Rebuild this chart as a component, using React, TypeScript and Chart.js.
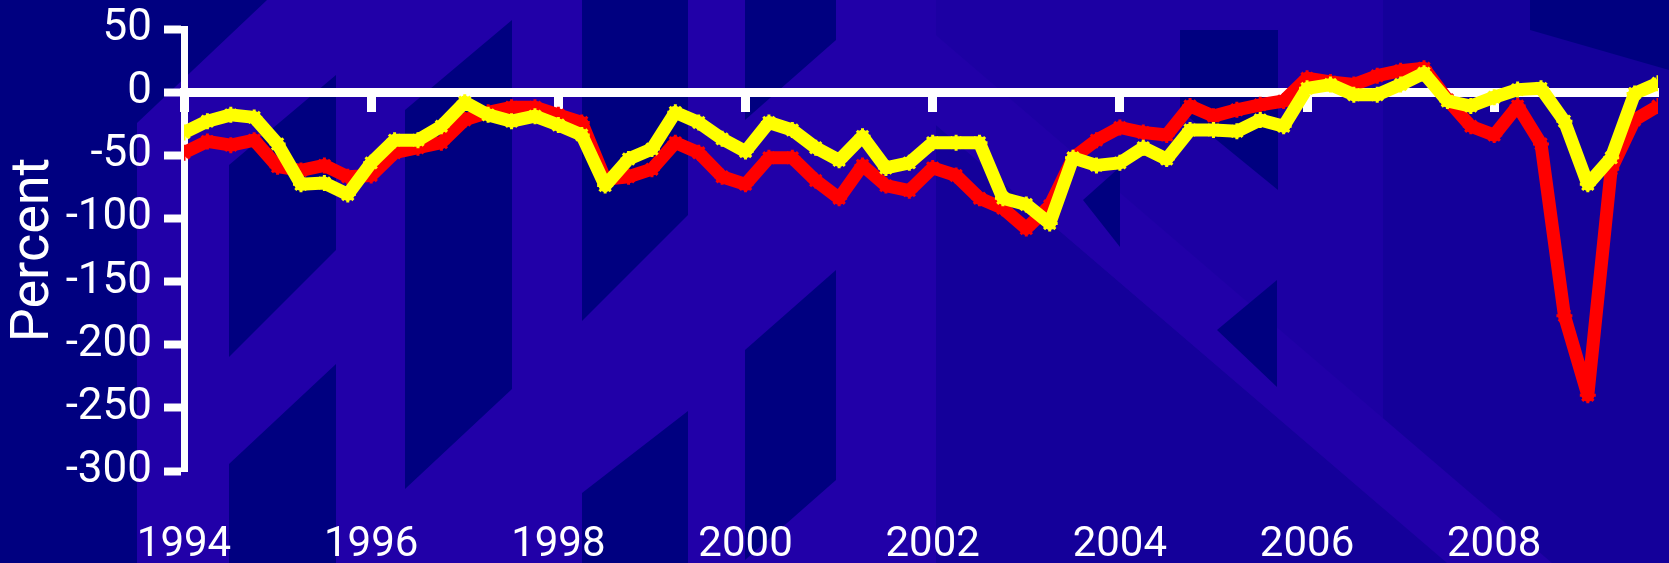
import React, { useEffect, useRef } from "react";
import { Chart, registerables } from "chart.js";

Chart.register(...registerables);

// Quarterly observations, 1994 Q1 .. 2009 Q4 (decimal years)
const quarters: number[] = [
  1994.0, 1994.25, 1994.5, 1994.75, 1995.0, 1995.25, 1995.5, 1995.75,
  1996.0, 1996.25, 1996.5, 1996.75, 1997.0, 1997.25, 1997.5, 1997.75,
  1998.0, 1998.25, 1998.5, 1998.75, 1999.0, 1999.25, 1999.5, 1999.75,
  2000.0, 2000.25, 2000.5, 2000.75, 2001.0, 2001.25, 2001.5, 2001.75,
  2002.0, 2002.25, 2002.5, 2002.75, 2003.0, 2003.25, 2003.5, 2003.75,
  2004.0, 2004.25, 2004.5, 2004.75, 2005.0, 2005.25, 2005.5, 2005.75,
  2006.0, 2006.25, 2006.5, 2006.75, 2007.0, 2007.25, 2007.5, 2007.75,
  2008.0, 2008.25, 2008.5, 2008.75, 2009.0, 2009.25, 2009.5, 2009.75,
];

const redSeries: number[] = [
  -48, -39, -42, -38, -59, -62, -58, -67,
  -66, -48, -44, -40, -22, -16, -12, -12,
  -18, -24, -69, -67, -61, -40, -48, -67,
  -73, -52, -52, -70, -84, -58, -74, -78,
  -60, -66, -84, -92, -108, -90, -52, -38,
  -28, -32, -34, -11, -19, -14, -10, -7,
  11, 8, 6, 13, 17, 19, -6, -27,
  -34, -11, -41, -177, -240, -61, -22, -11,
];

const yellowSeries: number[] = [
  -32, -23, -18, -20, -41, -73, -72, -81,
  -56, -38, -38, -27, -8, -18, -23, -19,
  -26, -34, -74, -53, -45, -16, -24, -37,
  -47, -24, -30, -44, -54, -35, -60, -56,
  -40, -40, -40, -84, -89, -104, -52, -58,
  -56, -44, -53, -30, -30, -31, -22, -27,
  3, 6, -2, -2, 6, 15, -7, -11,
  -4, 2, 3, -23, -73, -52, -1, 7,
];

const xTickYears: number[] = [1994, 1996, 1998, 2000, 2002, 2004, 2006, 2008];
const yTickValues: number[] = [50, 0, -50, -100, -150, -200, -250, -300];

const X_MIN = 1994;
const X_MAX = 2009.75;
const Y_MIN = -300;
const Y_MAX = 50;

const NAVY = "#000080";
const LIGHT = "#2100A8";
const MIDLIGHT = "#1C00A3";
const MEDIUM = "#14009A";

const backgroundPlugin = {
  id: "slideBackground",
  beforeDraw(chart: any) {
    const ctx = chart.ctx as CanvasRenderingContext2D;
    const w = chart.width;
    const h = chart.height;
    const poly = (pts: number[][], color: string) => {
      ctx.beginPath();
      ctx.moveTo(pts[0][0], pts[0][1]);
      for (let i = 1; i < pts.length; i++) ctx.lineTo(pts[i][0], pts[i][1]);
      ctx.closePath();
      ctx.fillStyle = color;
      ctx.fill();
    };
    ctx.save();
    ctx.fillStyle = LIGHT;
    ctx.fillRect(0, 0, w, h);
    // right-hand zones
    poly([[936, 0], [w, 0], [w, h], [936, h]], MIDLIGHT);
    poly([[1383, 0], [w, 0], [w, h], [1383, h]], MEDIUM);
    poly([[936, 125], [1447, h], [936, h]], MEDIUM);
    // light diagonal band
    poly([[790, 0], [895, 0], [1552, h], [1447, h]], LIGHT);
    // left strip
    poly([[0, 0], [137, 0], [137, h], [0, h]], NAVY);
    poly([[137, 0], [267, 0], [137, 123]], NAVY);
    // column A
    poly([[229, 165], [336, 75], [336, 250], [229, 357]], NAVY);
    poly([[229, 464], [336, 364], [336, h], [229, h]], NAVY);
    // column B
    poly([[405, 110], [512, 20], [512, 389], [405, 489]], NAVY);
    // column C
    poly([[582, 0], [688, 0], [688, 215], [582, 321]], NAVY);
    poly([[582, 493], [688, 411], [688, h], [582, h]], NAVY);
    // column D
    poly([[745, 350], [836, 270], [836, 480], [745, 560]], NAVY);
    poly([[745, 0], [836, 0], [836, 40], [745, 120]], NAVY);
    // triangles on the right
    poly([[1217, 330], [1277, 280], [1277, 387]], NAVY);
    poly([[1083, 200], [1120, 167], [1120, 247]], NAVY);
    poly([[1180, 30], [1278, 30], [1278, 190], [1180, 110]], NAVY);
    poly([[1530, 0], [w, 0], [w, 70], [1530, 30]], NAVY);
    ctx.restore();
  },
};

export default function App() {
  const canvasRef = useRef<HTMLCanvasElement | null>(null);

  useEffect(() => {
    if (!canvasRef.current) return;
    const yellowPts = quarters.map((q, i) => ({ x: q, y: yellowSeries[i] }));
    const redPts = quarters.map((q, i) => ({ x: q, y: redSeries[i] }));

    const lineStyle = (color: string) => ({
      borderColor: color,
      backgroundColor: color,
      borderWidth: 13,
      borderJoinStyle: "round" as const,
      tension: 0,
      pointStyle: "star" as const,
      pointRadius: 8,
      pointBorderWidth: 3,
      pointBorderColor: color,
      xAxisID: "x",
      yAxisID: "y",
    });

    const chart = new Chart(canvasRef.current, {
      type: "line",
      data: {
        datasets: [
          { label: "Yellow series", data: yellowPts, ...lineStyle("#FFFF00") },
          { label: "Red series", data: redPts, ...lineStyle("#FF0000") },
        ],
      },
      options: {
        animation: false,
        responsive: false,
        maintainAspectRatio: false,
        layout: { padding: { top: 29, left: 0, right: 0, bottom: 0 } },
        plugins: {
          legend: { display: false },
          tooltip: { enabled: false },
        },
        scales: {
          x: {
            type: "linear",
            position: { y: 0 },
            min: X_MIN,
            max: X_MAX,
            afterBuildTicks: (scale: any) => {
              scale.ticks = xTickYears.map((v) => ({ value: v }));
            },
            afterFit: (scale: any) => {
              scale.height = 0;
            },
            ticks: { display: false },
            grid: {
              display: true,
              drawOnChartArea: false,
              drawTicks: true,
              tickLength: 15,
              tickWidth: 9,
              tickColor: "#FFFFFF",
            },
            border: { display: true, color: "#FFFFFF", width: 9 },
          },
          x2: {
            type: "linear",
            position: "bottom",
            min: X_MIN,
            max: X_MAX,
            afterBuildTicks: (scale: any) => {
              scale.ticks = xTickYears.map((v) => ({ value: v }));
            },
            afterFit: (scale: any) => {
              scale.height = 92;
            },
            ticks: {
              color: "#FFFFFF",
              font: { family: "Roboto", size: 42 },
              padding: 49,
              maxRotation: 0,
              autoSkip: false,
              callback: (v: any) => String(v),
            },
            grid: { display: false, drawTicks: false },
            border: { display: false },
          },
          y: {
            type: "linear",
            position: "left",
            min: Y_MIN,
            max: Y_MAX,
            afterBuildTicks: (scale: any) => {
              scale.ticks = yTickValues.map((v) => ({ value: v }));
            },
            afterFit: (scale: any) => {
              scale.width = 184;
            },
            ticks: {
              color: "#FFFFFF",
              font: { family: "Roboto", size: 44, lineHeight: 0.5 },
              padding: 12,
              callback: (v: any) => String(v),
            },
            grid: {
              display: true,
              drawOnChartArea: false,
              drawTicks: true,
              tickLength: 20,
              tickWidth: 8,
              tickColor: "#FFFFFF",
            },
            border: { display: true, color: "#FFFFFF", width: 7 },
            title: {
              display: true,
              text: "Percent",
              color: "#FFFFFF",
              font: { family: "Roboto", size: 54 },
              padding: { top: 2, bottom: 0 },
            },
          },
        },
      },
      plugins: [backgroundPlugin],
    });

    return () => {
      chart.destroy();
    };
  }, []);

  return (
    <div style={{ position: "absolute", left: 0, top: 0, width: 1669, height: 563 }}>
      <canvas ref={canvasRef} width={1669} height={563} style={{ display: "block" }} />
    </div>
  );
}
